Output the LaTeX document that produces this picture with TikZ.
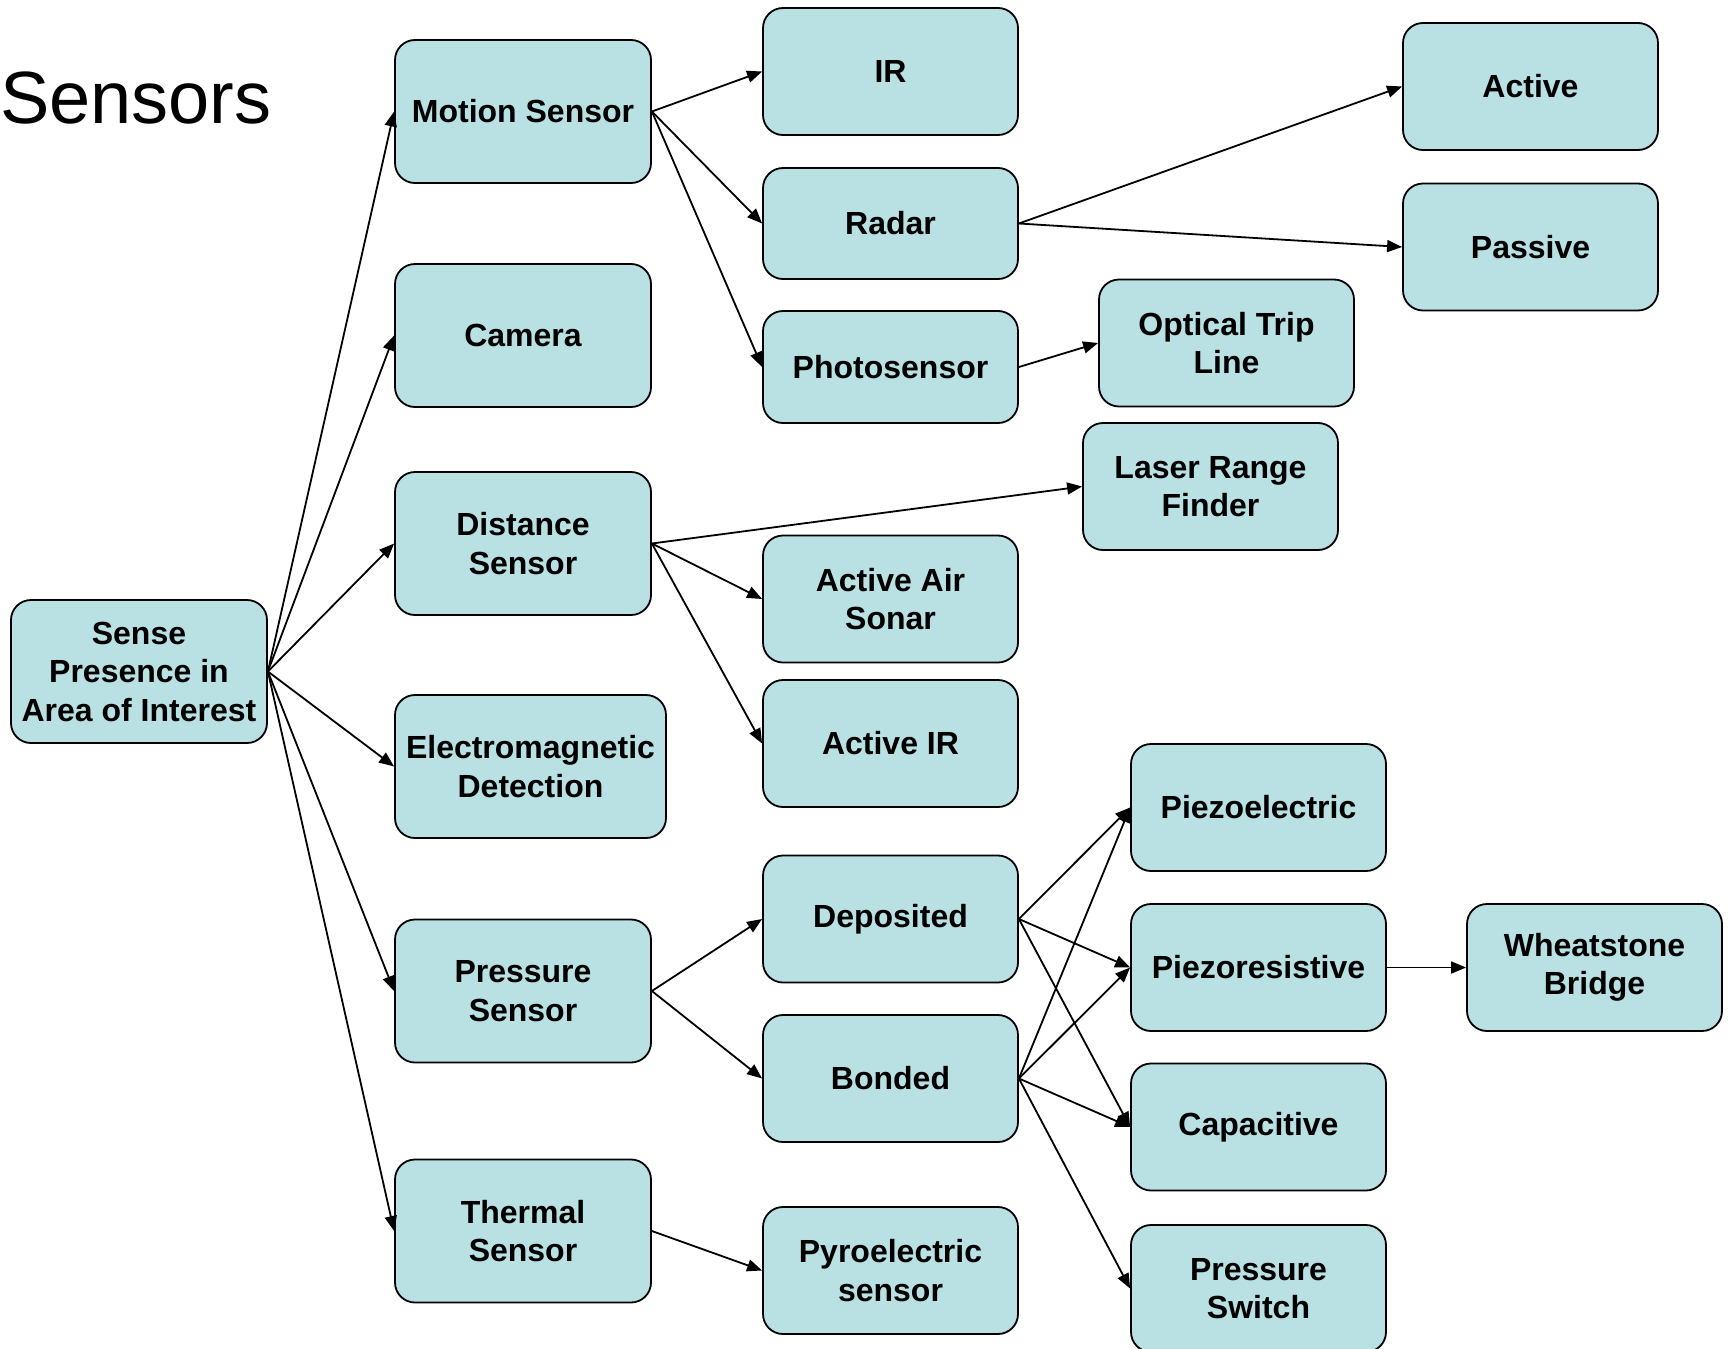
\documentclass[tikz,border=0pt]{standalone}
\usepackage{fontspec}
\setmainfont{Liberation Sans}
\usetikzlibrary{arrows.meta}
\definecolor{boxfill}{RGB}{185,224,227}
\tikzset{
  box/.style={draw=black, line width=1.8pt, fill=boxfill, rounded corners=20pt,
    minimum width=255pt, minimum height=127pt, inner sep=0pt, align=center,
    font=\fontsize{32pt}{38.5pt}\selectfont\bfseries},
  conn/.style={line width=1.8pt, -{Triangle[length=15pt,width=12pt]}}
}
\begin{document}
\begin{tikzpicture}[x=1pt,y=-1pt]
\useasboundingbox (0,0) rectangle (1730,1349);
\node[anchor=base west, inner sep=0pt, font=\fontsize{74pt}{80pt}\selectfont] (title) at (0,123) {Sensors};

\node[box, minimum width=256pt, minimum height=143pt] (sense) at (139,671.5) {Sense\\Presence in\\Area of Interest};
\node[box, minimum width=256pt, minimum height=143pt] (motion) at (523,111.5) {Motion Sensor};
\node[box, minimum width=256pt, minimum height=143pt] (camera) at (523,335.5) {Camera};
\node[box, minimum width=256pt, minimum height=143pt] (distance) at (523,543.5) {Distance\\Sensor};
\node[box, minimum width=271pt, minimum height=143pt] (em) at (530.5,766.5) {Electromagnetic\\Detection};
\node[box, minimum width=256pt, minimum height=143pt] (pressure) at (523,991) {Pressure\\Sensor};
\node[box, minimum width=256pt, minimum height=143pt] (thermal) at (523,1231) {Thermal\\Sensor};

\node[box] (ir) at (890.5,71.5) {IR};
\node[box, minimum height=111pt] (radar) at (890.5,223.5) {Radar};
\node[box, minimum height=112pt] (photo) at (890.5,367) {Photosensor};
\node[box] (active) at (1530.5,86.5) {Active};
\node[box] (passive) at (1530.5,247) {Passive};
\node[box] (optical) at (1226.5,343) {Optical Trip\\Line};
\node[box] (laser) at (1210.5,486.5) {Laser Range\\Finder};
\node[box] (sonar) at (890.5,599) {Active Air\\Sonar};
\node[box] (activeir) at (890.5,743.5) {Active IR};
\node[box] (piezoel) at (1258.5,807.5) {Piezoelectric};
\node[box] (deposited) at (890.5,919) {Deposited};
\node[box] (piezores) at (1258.5,967.5) {Piezoresistive};
\node[box] (wheat) at (1594.5,967.5) {Wheatstone\\Bridge};
\node[box] (bonded) at (890.5,1078.5) {Bonded};
\node[box] (capac) at (1258.5,1127) {Capacitive};
\node[box] (pyro) at (890.5,1270.5) {Pyroelectric\\sensor};
\node[box] (pswitch) at (1258.5,1288.5) {Pressure\\Switch};

\foreach \t in {motion,camera,distance,em,pressure,thermal}
  \draw[conn] (sense.east) -- (\t.west);
\foreach \t in {ir,radar,photo}
  \draw[conn] (motion.east) -- (\t.west);
\foreach \t in {active,passive}
  \draw[conn] (radar.east) -- (\t.west);
\draw[conn] (photo.east) -- (optical.west);
\foreach \t in {laser,sonar,activeir}
  \draw[conn] (distance.east) -- (\t.west);
\foreach \t in {deposited,bonded}
  \draw[conn] (pressure.east) -- (\t.west);
\draw[conn] (thermal.east) -- (pyro.west);
\foreach \t in {piezoel,piezores,capac}
  \draw[conn] (deposited.east) -- (\t.west);
\foreach \t in {piezoel,piezores,capac,pswitch}
  \draw[conn] (bonded.east) -- (\t.west);
\draw[conn] (piezores.east) -- (wheat.west);
\end{tikzpicture}
\end{document}
